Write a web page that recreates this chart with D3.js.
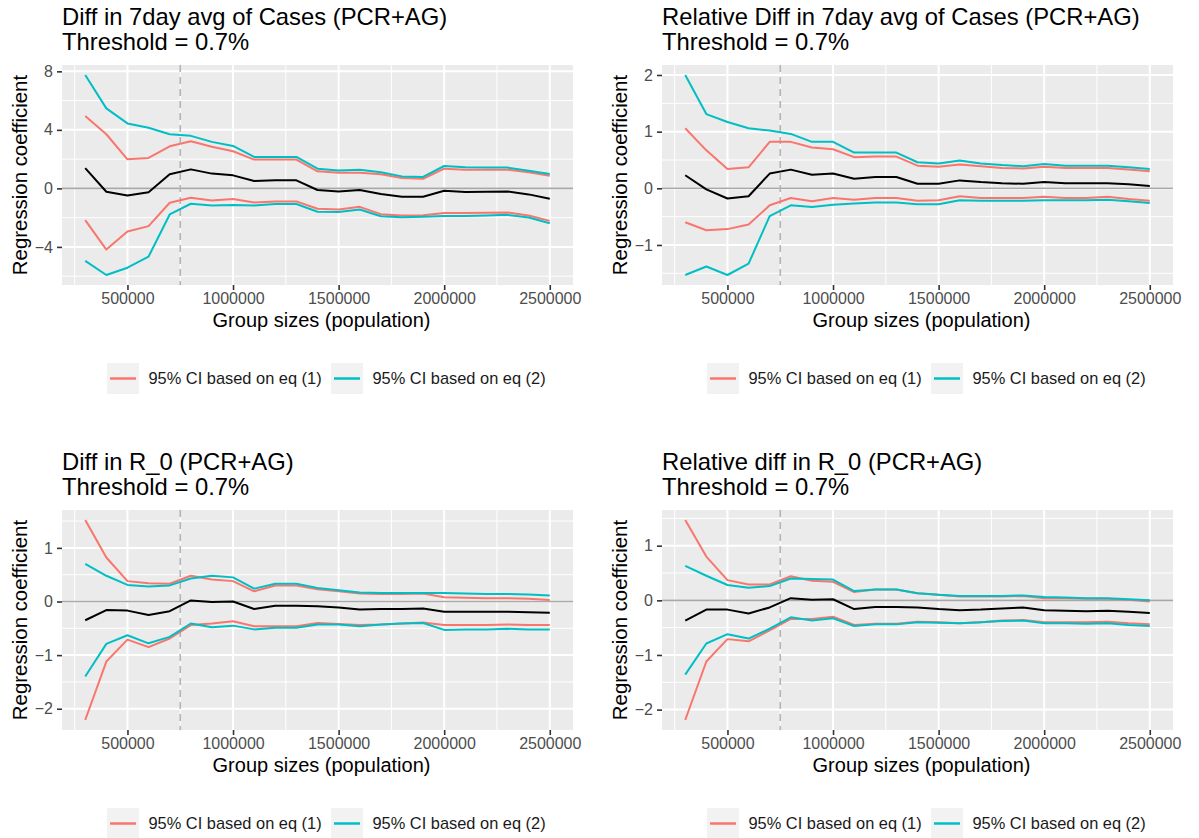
<!DOCTYPE html>
<html>
<head>
<meta charset="utf-8">
<script src="https://cdn.jsdelivr.net/npm/d3@7"></script>
<style>
  body { margin: 0; background: #fff; }
  text { font-family: "Liberation Sans", Arial, sans-serif; }
</style>
</head>
<body>
<svg id="chart" width="1199" height="838"></svg>
<script>
// x values (group sizes)
const groupSizes = [300000, 400000, 500000, 600000, 700000, 800000, 900000, 1000000, 1100000, 1200000, 1300000, 1400000,
  1500000, 1600000, 1700000, 1800000, 1900000, 2000000, 2100000, 2200000, 2300000, 2400000, 2500000];
const xTickValues = [500000, 1000000, 1500000, 2000000, 2500000];
const thresholdSize = 750000;

const panelTitles = ["Diff in 7day avg of Cases (PCR+AG)", "Relative Diff in 7day avg of Cases (PCR+AG)",
  "Diff in R_0 (PCR+AG)", "Relative diff in R_0 (PCR+AG)"];
const subTitle = "Threshold = 0.7%";
const legendLabels = ["95% CI based on eq (1)", "95% CI based on eq (2)"];

// panel 1: diff in cases
const casesDiffEst = [1.39,-0.23,-0.48,-0.27,0.96,1.30,1.01,0.89,0.50,0.55,0.55,-0.11,-0.21,-0.11,-0.39,-0.57,-0.57,-0.16,-0.25,-0.23,-0.21,-0.41,-0.71];
const casesDiffLo1 = [-2.17,-4.18,-2.95,-2.58,-0.98,-0.64,-0.82,-0.73,-0.96,-0.89,-0.89,-1.39,-1.44,-1.26,-1.76,-1.85,-1.83,-1.69,-1.69,-1.67,-1.65,-1.85,-2.22];
const casesDiffUp1 = [4.94,3.70,1.99,2.08,2.88,3.22,2.84,2.54,1.97,1.97,1.97,1.17,1.07,1.07,0.96,0.71,0.66,1.35,1.28,1.28,1.28,1.10,0.87];
const casesDiffLo2 = [-4.96,-5.92,-5.42,-4.66,-1.78,-1.05,-1.17,-1.14,-1.17,-1.07,-1.07,-1.60,-1.62,-1.44,-1.90,-1.97,-1.94,-1.88,-1.88,-1.85,-1.81,-1.99,-2.38];
const casesDiffUp2 = [7.75,5.47,4.44,4.14,3.70,3.59,3.18,2.90,2.15,2.15,2.15,1.35,1.23,1.28,1.10,0.82,0.78,1.53,1.44,1.42,1.42,1.21,0.98];
const casesDiffTicks = [-4, 0, 4, 8];

// panel 2: relative diff in cases
const casesRelEst = [0.23,-0.02,-0.18,-0.14,0.26,0.33,0.24,0.26,0.17,0.20,0.20,0.08,0.08,0.14,0.11,0.09,0.08,0.11,0.09,0.09,0.09,0.07,0.04];
const casesRelLo1 = [-0.60,-0.74,-0.72,-0.64,-0.30,-0.17,-0.23,-0.17,-0.20,-0.17,-0.17,-0.22,-0.21,-0.14,-0.17,-0.17,-0.17,-0.15,-0.17,-0.17,-0.15,-0.19,-0.22];
const casesRelUp1 = [1.06,0.67,0.34,0.37,0.82,0.82,0.72,0.69,0.55,0.56,0.56,0.40,0.38,0.42,0.39,0.36,0.35,0.38,0.36,0.36,0.36,0.33,0.30];
const casesRelLo2 = [-1.53,-1.38,-1.53,-1.33,-0.49,-0.30,-0.33,-0.29,-0.27,-0.25,-0.25,-0.28,-0.28,-0.21,-0.22,-0.22,-0.22,-0.21,-0.21,-0.21,-0.20,-0.23,-0.26];
const casesRelUp2 = [2.00,1.31,1.17,1.06,1.02,0.96,0.82,0.82,0.63,0.63,0.63,0.46,0.44,0.49,0.44,0.41,0.39,0.43,0.40,0.40,0.40,0.37,0.34];
const casesRelTicks = [-1, 0, 1, 2];

// panel 3: diff in R_0
const r0DiffEst = [-0.35,-0.16,-0.17,-0.25,-0.18,0.02,-0.01,0.00,-0.14,-0.08,-0.08,-0.09,-0.11,-0.15,-0.14,-0.14,-0.13,-0.19,-0.19,-0.19,-0.19,-0.20,-0.21];
const r0DiffLo1 = [-2.21,-1.12,-0.71,-0.85,-0.69,-0.44,-0.41,-0.37,-0.46,-0.46,-0.46,-0.40,-0.42,-0.44,-0.43,-0.41,-0.39,-0.44,-0.44,-0.44,-0.43,-0.44,-0.44];
const r0DiffUp1 = [1.52,0.82,0.38,0.34,0.33,0.48,0.41,0.38,0.19,0.30,0.30,0.23,0.19,0.15,0.14,0.14,0.15,0.08,0.07,0.06,0.06,0.05,0.03];
const r0DiffLo2 = [-1.40,-0.79,-0.63,-0.78,-0.66,-0.41,-0.48,-0.45,-0.52,-0.49,-0.49,-0.43,-0.43,-0.46,-0.43,-0.41,-0.40,-0.53,-0.52,-0.52,-0.51,-0.52,-0.52];
const r0DiffUp2 = [0.70,0.48,0.31,0.28,0.30,0.43,0.48,0.45,0.24,0.33,0.33,0.25,0.21,0.17,0.16,0.16,0.16,0.16,0.15,0.14,0.14,0.13,0.11];
const r0DiffTicks = [-2, -1, 0, 1];

// panel 4: relative diff in R_0
const r0RelEst = [-0.37,-0.17,-0.17,-0.24,-0.13,0.04,0.01,0.02,-0.16,-0.12,-0.12,-0.13,-0.16,-0.18,-0.17,-0.15,-0.13,-0.18,-0.19,-0.20,-0.19,-0.21,-0.23];
const r0RelLo1 = [-2.19,-1.12,-0.71,-0.75,-0.55,-0.34,-0.34,-0.30,-0.45,-0.43,-0.43,-0.39,-0.40,-0.42,-0.40,-0.37,-0.36,-0.40,-0.40,-0.40,-0.39,-0.42,-0.44];
const r0RelUp1 = [1.47,0.80,0.37,0.29,0.29,0.44,0.36,0.34,0.15,0.20,0.20,0.13,0.10,0.07,0.07,0.07,0.08,0.04,0.04,0.03,0.03,0.01,-0.02];
const r0RelLo2 = [-1.36,-0.79,-0.62,-0.70,-0.52,-0.31,-0.37,-0.33,-0.47,-0.44,-0.44,-0.40,-0.41,-0.42,-0.40,-0.38,-0.37,-0.42,-0.42,-0.43,-0.42,-0.45,-0.47];
const r0RelUp2 = [0.63,0.45,0.28,0.23,0.26,0.40,0.39,0.38,0.17,0.20,0.20,0.13,0.10,0.08,0.08,0.08,0.09,0.06,0.05,0.04,0.04,0.02,0.00];
const r0RelTicks = [-2, -1, 0, 1];

const red = "#F8766D", cyan = "#00BFC4";

const panels = [
  {title: panelTitles[0], est: casesDiffEst, lo1: casesDiffLo1, up1: casesDiffUp1, lo2: casesDiffLo2, up2: casesDiffUp2, ticks: casesDiffTicks},
  {title: panelTitles[1], est: casesRelEst, lo1: casesRelLo1, up1: casesRelUp1, lo2: casesRelLo2, up2: casesRelUp2, ticks: casesRelTicks},
  {title: panelTitles[2], est: r0DiffEst, lo1: r0DiffLo1, up1: r0DiffUp1, lo2: r0DiffLo2, up2: r0DiffUp2, ticks: r0DiffTicks},
  {title: panelTitles[3], est: r0RelEst, lo1: r0RelLo1, up1: r0RelUp1, lo2: r0RelLo2, up2: r0RelUp2, ticks: r0RelTicks}
];

// panel box inside each cell
const box = {left: 62, right: 573, top: 65, bottom: 285};
const svg = d3.select("#chart");

panels.forEach(function(p, i) {
  let col = i % 2, row = Math.floor(i / 2);
  let g = svg.append("g").attr("transform", "translate(" + (col * 600) + "," + (row * 445) + ")");
  drawPanel(g, p);
});

function expand(ext) {
  let pad = (ext[1] - ext[0]) * 0.05;
  return [ext[0] - pad, ext[1] + pad];
}

function drawPanel(g, p) {
  let x = d3.scaleLinear().domain(expand(d3.extent(groupSizes))).range([box.left, box.right]);
  let allVals = [].concat(p.est, p.lo1, p.up1, p.lo2, p.up2);
  let y = d3.scaleLinear().domain(expand(d3.extent(allVals))).range([box.bottom, box.top]);

  // background
  g.append("rect").attr("x", box.left).attr("y", box.top)
    .attr("width", box.right - box.left).attr("height", box.bottom - box.top)
    .attr("fill", "#EBEBEB");

  // minor grid = midpoints of the major ticks
  let xStep = xTickValues[1] - xTickValues[0];
  let xMinor = xTickValues.map(d => d - xStep / 2).concat([xTickValues[xTickValues.length - 1] + xStep / 2])
    .filter(d => d >= x.domain()[0] && d <= x.domain()[1]);
  let yStep = p.ticks[1] - p.ticks[0];
  let yMinor = p.ticks.map(d => d - yStep / 2).concat([p.ticks[p.ticks.length - 1] + yStep / 2])
    .filter(d => d >= y.domain()[0] && d <= y.domain()[1]);

  g.selectAll(".xminor").data(xMinor).enter().append("line")
    .attr("x1", d => x(d)).attr("x2", d => x(d)).attr("y1", box.top).attr("y2", box.bottom)
    .attr("stroke", "#fff").attr("stroke-width", 1);
  g.selectAll(".yminor").data(yMinor).enter().append("line")
    .attr("y1", d => y(d)).attr("y2", d => y(d)).attr("x1", box.left).attr("x2", box.right)
    .attr("stroke", "#fff").attr("stroke-width", 1);
  g.selectAll(".xmajor").data(xTickValues).enter().append("line")
    .attr("x1", d => x(d)).attr("x2", d => x(d)).attr("y1", box.top).attr("y2", box.bottom)
    .attr("stroke", "#fff").attr("stroke-width", 2);
  g.selectAll(".ymajor").data(p.ticks).enter().append("line")
    .attr("y1", d => y(d)).attr("y2", d => y(d)).attr("x1", box.left).attr("x2", box.right)
    .attr("stroke", "#fff").attr("stroke-width", 2);

  // zero line and threshold
  g.append("line").attr("x1", box.left).attr("x2", box.right).attr("y1", y(0)).attr("y2", y(0))
    .attr("stroke", "#A8A8A8").attr("stroke-width", 1.6);
  g.append("line").attr("x1", x(thresholdSize)).attr("x2", x(thresholdSize)).attr("y1", box.top).attr("y2", box.bottom)
    .attr("stroke", "#B4B4B4").attr("stroke-width", 1.6).attr("stroke-dasharray", "7,5");

  let line = d3.line().x((d, j) => x(groupSizes[j])).y(d => y(d));
  let series = [[p.est, "#000"], [p.up1, red], [p.lo1, red], [p.up2, cyan], [p.lo2, cyan]];
  series.forEach(function(s) {
    g.append("path").datum(s[0]).attr("d", line).attr("fill", "none")
      .attr("stroke", s[1]).attr("stroke-width", 2).attr("stroke-linejoin", "round");
  });

  // axes
  let xAxis = g.append("g").attr("transform", "translate(0," + box.bottom + ")")
    .call(d3.axisBottom(x).tickValues(xTickValues).tickFormat(d3.format("d")).tickSize(5).tickPadding(3));
  let yAxis = g.append("g").attr("transform", "translate(" + box.left + ",0)")
    .call(d3.axisLeft(y).tickValues(p.ticks).tickFormat(d => d < 0 ? "\u2212" + Math.abs(d) : d).tickSize(5).tickPadding(4));
  [xAxis, yAxis].forEach(function(a) {
    a.select(".domain").remove();
    a.selectAll("line").attr("stroke", "#333").attr("stroke-width", 1.6);
    a.selectAll("text").attr("fill", "#4D4D4D").style("font-size", "16px")
      .style("font-family", '"Liberation Sans", Arial, sans-serif');
  });

  // titles
  g.append("text").attr("x", box.left).attr("y", 25).attr("font-size", 23.8).attr("fill", "#000").text(p.title);
  g.append("text").attr("x", box.left).attr("y", 49.5).attr("font-size", 23.8).attr("fill", "#000").text(subTitle);
  g.append("text").attr("x", 321.5).attr("y", 327).attr("text-anchor", "middle")
    .attr("font-size", 20).attr("fill", "#000").text("Group sizes (population)");
  g.append("text").attr("transform", "translate(26.5," + ((box.top + box.bottom) / 2) + ") rotate(-90)")
    .attr("text-anchor", "middle").attr("font-size", 20.4).attr("fill", "#000").text("Regression coefficient");

  // legend
  let legendX = [107, 331];
  [red, cyan].forEach(function(c, k) {
    let lg = g.append("g").attr("transform", "translate(" + legendX[k] + ",363)");
    lg.append("rect").attr("width", 32).attr("height", 31).attr("fill", "#F2F2F2");
    lg.append("line").attr("x1", 3).attr("x2", 29).attr("y1", 15.5).attr("y2", 15.5)
      .attr("stroke", c).attr("stroke-width", 2.5);
    lg.append("text").attr("x", 41.5).attr("y", 15.5).attr("dy", "0.35em").attr("font-size", 16.4)
      .attr("fill", "#1A1A1A").text(legendLabels[k]);
  });
}
</script>
</body>
</html>
